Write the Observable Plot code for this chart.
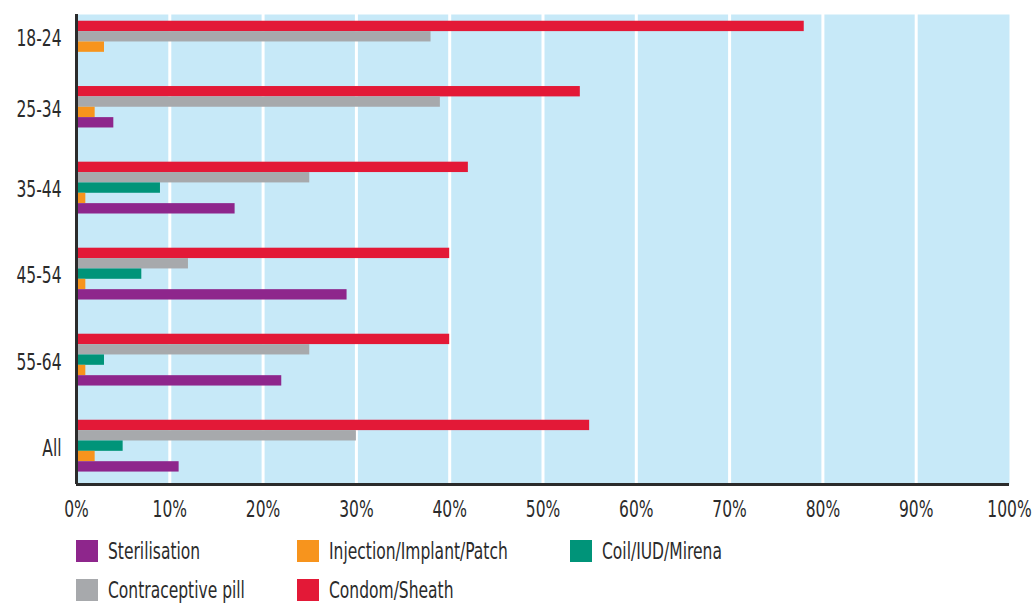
<!DOCTYPE html>
<html>
<head>
<meta charset="utf-8">
<script src="https://cdn.jsdelivr.net/npm/d3@7"></script>
<script src="https://cdn.jsdelivr.net/npm/@observablehq/plot@0.6"></script>
<style>
  html, body { margin: 0; padding: 0; background: #fff; }
  body { width: 1034px; height: 603px; overflow: hidden; font-family: "DejaVu Sans Condensed", sans-serif; color: #2b2b2b; }
  #legend { display: grid; grid-template-columns: 221px 273px auto; row-gap: 17px; margin-left: 76px; margin-top: 15px; }
  .item { display: flex; align-items: center; height: 22px; font-size: 23px; white-space: nowrap; }
  .sw { width: 22px; height: 22px; margin-right: 10px; flex: none; }
  .lbl { display: inline-block; transform: scaleX(0.75); transform-origin: left center; }
</style>
</head>
<body>
<div id="chart"></div>
<div id="legend"></div>
<script>
const groups = ["18-24", "25-34", "35-44", "45-54", "55-64", "All"];
const series = ["Condom/Sheath", "Contraceptive pill", "Coil/IUD/Mirena", "Injection/Implant/Patch", "Sterilisation"];
const colors = ["#e31937", "#a7a9ac", "#009479", "#f7941d", "#8e268c"];
const condom = [78, 54, 42, 40, 40, 55];
const pill = [38, 39, 25, 12, 25, 30];
const coil = [0, 0, 9, 7, 3, 5];
const injection = [3, 2, 1, 1, 1, 2];
const sterilisation = [0, 4, 17, 29, 22, 11];
const legendOrder = ["Sterilisation", "Injection/Implant/Patch", "Coil/IUD/Mirena", "Contraceptive pill", "Condom/Sheath"];
const xTicks = [0, 10, 20, 30, 40, 50, 60, 70, 80, 90, 100];

const values = [condom, pill, coil, injection, sterilisation];

// packed layout: bars with nonzero values take one slot each, groups separated by a gap
const topPad = 0.65, gap = 3.3, bottomPad = 1.2;
let pos = topPad;
const rows = [];
const centers = [];
groups.forEach((g, gi) => {
  const start = pos;
  series.forEach((s, si) => {
    const v = values[si][gi];
    if (v > 0) {
      rows.push({group: g, series: s, value: v, y1: pos, y2: pos + 1});
      pos += 1;
    }
  });
  centers.push((start + pos) / 2);
  if (gi < groups.length - 1) pos += gap;
});
const total = pos + bottomPad;
const centerLabel = new Map(centers.map((c, i) => [c, groups[i]]));

const chart = Plot.plot({
  width: 1034,
  height: 525,
  marginTop: 14,
  marginBottom: 41,
  marginLeft: 76,
  marginRight: 25,
  style: {fontFamily: '"DejaVu Sans Condensed", sans-serif', fontSize: "23px", color: "#2b2b2b", background: "#fff", overflow: "visible"},
  x: {domain: [0, 100]},
  y: {domain: [0, total], reverse: true},
  color: {domain: series, range: colors},
  marks: [
    Plot.frame({fill: "#c7e9f8", stroke: null}),
    Plot.ruleX(xTicks.filter(d => d > 0 && d < 100), {stroke: "#ffffff", strokeWidth: 3}),
    Plot.rectX(rows, {x: "value", y1: "y1", y2: "y2", fill: "series", inset: 0}),
    Plot.ruleX([0], {stroke: "#2b2b2b", strokeWidth: 3}),
    Plot.ruleY([total], {stroke: "#2b2b2b", strokeWidth: 3}),
    Plot.axisX({ticks: xTicks, tickFormat: d => d + "%", tickSize: 0, tickPadding: 16, label: null, fontSize: 23}),
    Plot.axisY({ticks: centers, tickFormat: d => centerLabel.get(d), tickSize: 0, tickPadding: 15, label: null, fontSize: 23, dy: 2})
  ]
});
// condensed look: compress axis labels horizontally about their anchor
chart.querySelectorAll("text").forEach(t => {
  const tr = t.getAttribute("transform") || "";
  t.setAttribute("transform", (tr + " scale(0.75,1)").trim());
});
document.getElementById("chart").appendChild(chart);

const legend = document.getElementById("legend");
legendOrder.forEach(name => {
  const item = document.createElement("div");
  item.className = "item";
  const sw = document.createElement("span");
  sw.className = "sw";
  sw.style.background = colors[series.indexOf(name)];
  const label = document.createElement("span");
  label.className = "lbl";
  label.textContent = name;
  item.appendChild(sw);
  item.appendChild(label);
  legend.appendChild(item);
});
</script>
</body>
</html>
